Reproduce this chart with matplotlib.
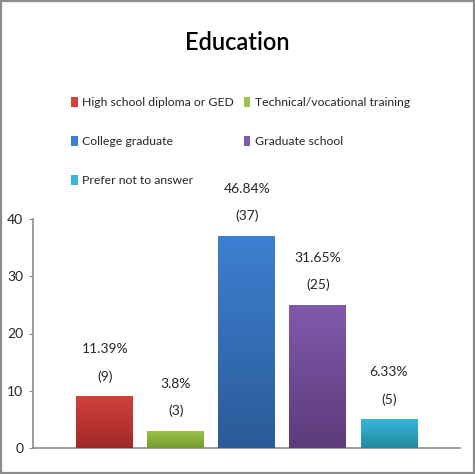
import matplotlib
matplotlib.use('Agg')

import matplotlib.pyplot as plt
import numpy as np
from matplotlib.patches import Rectangle

categories = ['High school diploma or GED', 'Technical/vocational training',
              'College graduate', 'Graduate school', 'Prefer not to answer']
counts = [9, 3, 37, 25, 5]
percents = ['11.39%', '3.8%', '46.84%', '31.65%', '6.33%']
yticks = [0, 10, 20, 30, 40]

# top / bottom colours of each gradient bar
top_colors = ['#d2413c', '#9cc444', '#3d7fd1', '#8159ab', '#36b7d9']
bottom_colors = ['#a2292a', '#779c32', '#2b5b98', '#5d3c7c', '#22899f']

plt.rcParams['font.family'] = ['Lato', 'DejaVu Sans']

fig = plt.figure(figsize=(4.75, 4.74), dpi=100)
fig.patch.set_facecolor('white')
fig.patches.append(Rectangle((0.002, 0.002), 0.996, 0.996, transform=fig.transFigure,
                             fill=False, edgecolor='#8c8c8c', linewidth=1.6))

W, H = 475.0, 474.0
ax = fig.add_axes([33 / W, 1 - 448 / H, (460 - 33) / W, (448 - 219) / H])

x = np.arange(len(counts))
width = 0.8
bars = ax.bar(x, counts, width=width, color=top_colors, edgecolor='none', zorder=2)

for b, c1, c2 in zip(bars, top_colors, bottom_colors):
    cmap = matplotlib.colors.LinearSegmentedColormap.from_list('g', [c2, c1])
    grad = np.linspace(0, 1, 64).reshape(-1, 1)
    x0, y0 = b.get_x(), b.get_y()
    im = ax.imshow(grad, cmap=cmap, aspect='auto', origin='lower',
                   extent=[x0, x0 + b.get_width(), y0, y0 + b.get_height()], zorder=3)
    im.set_clip_path(b)

for xi, c, p in zip(x, counts, percents):
    ax.annotate('(%d)' % c, (xi, c), xytext=(0, 14.5), textcoords='offset points',
                ha='center', va='center', fontsize=10, color='#262626')
    ax.annotate(p, (xi, c), xytext=(0, 34), textcoords='offset points',
                ha='center', va='center', fontsize=10, color='#262626')

ax.set_xlim(-1.01, 5.0)
ax.set_ylim(0, 40)
ax.set_yticks(yticks)
ax.set_xticks([])
ax.tick_params(axis='y', length=3, color='#8c8c8c', labelsize=10, labelcolor='#262626', pad=4)
for side in ['top', 'right']:
    ax.spines[side].set_visible(False)
ax.spines['left'].set_color('#8c8c8c')
ax.spines['bottom'].set_color('#8c8c8c')
ax.spines['left'].set_linewidth(1.2)
ax.spines['bottom'].set_linewidth(1.2)

fig.text(237 / W, 1 - 43 / H, 'Education', ha='center', va='center',
         fontsize=17, fontweight='semibold', color='#000000')

# legend, filled row by row like the original (two columns, three rows)
handles = [Rectangle((0, 0), 1, 1, facecolor=c) for c in top_colors]
order = [0, 2, 4, 1, 3]
leg = fig.legend([handles[i] for i in order], [categories[i] for i in order],
                 ncol=2, loc='upper left',
                 bbox_to_anchor=(60 / W, 1 - 86 / H), frameon=False,
                 fontsize=8.8, handlelength=0.55, handleheight=0.9,
                 handletextpad=0.35, columnspacing=0.8, labelspacing=2.25)
for t in leg.get_texts():
    t.set_color('#262626')

plt.savefig('out.png', dpi=100)
